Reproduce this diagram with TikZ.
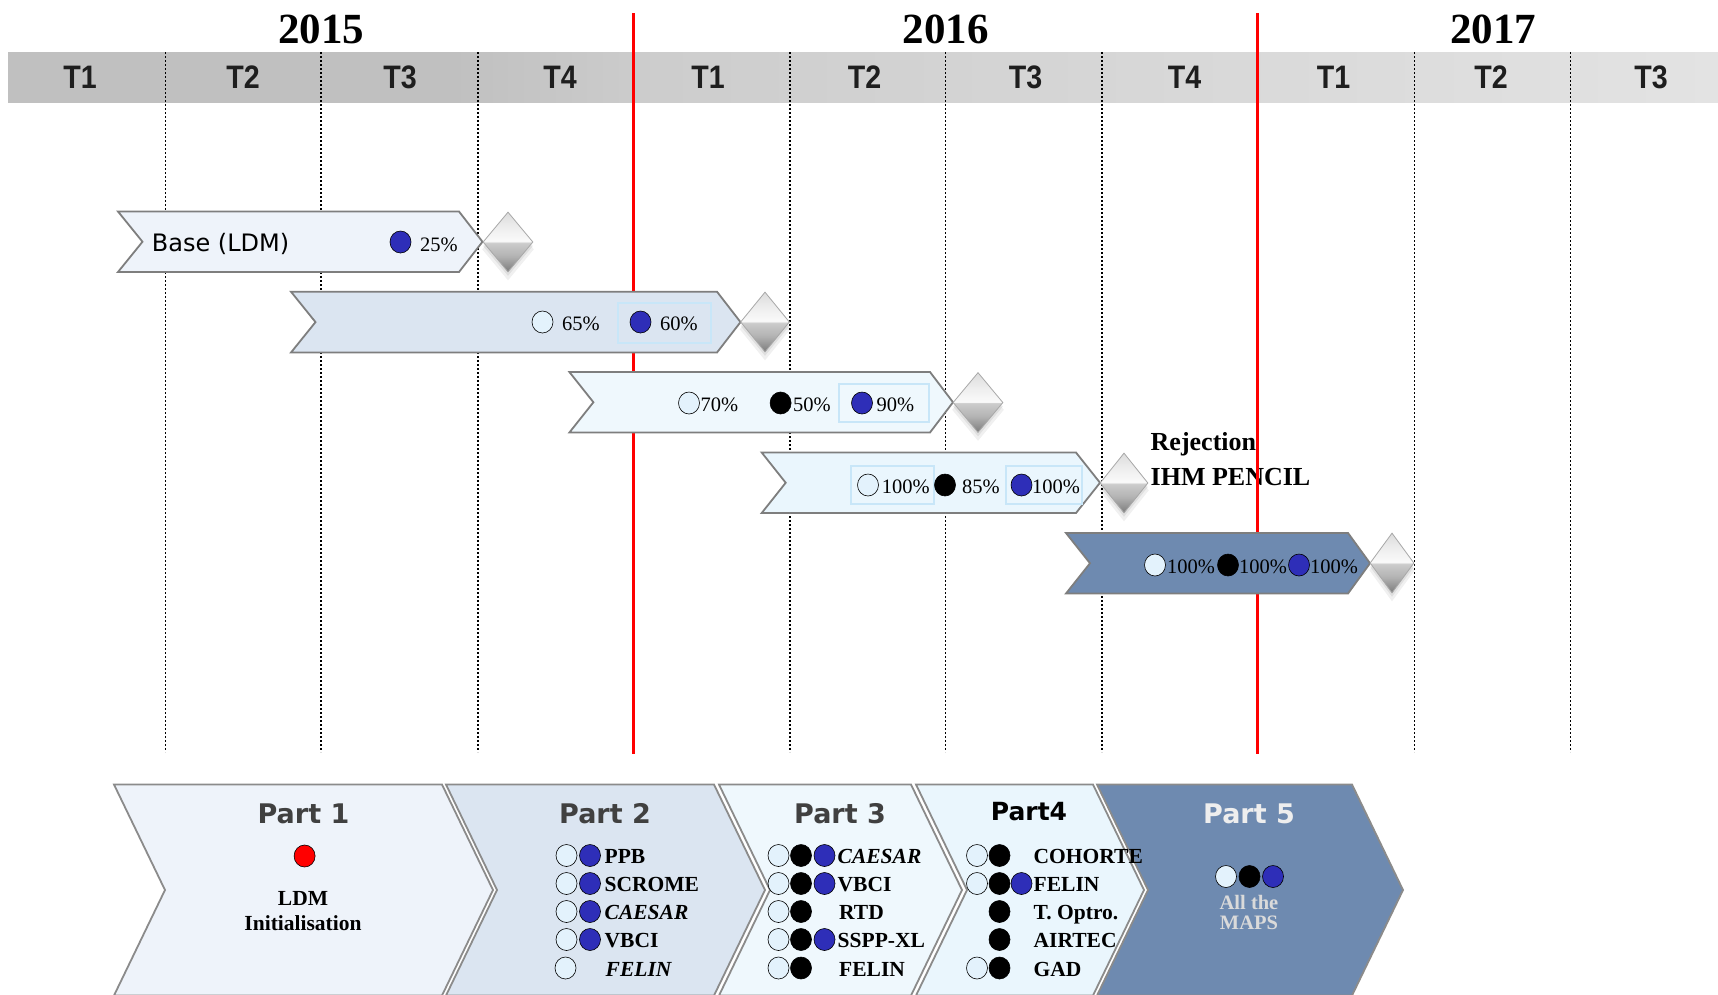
\documentclass[tikz,border=0pt]{standalone}
\usepackage{fontspec}
\setmainfont{Liberation Serif}
\newfontfamily\dejavu{DejaVu Sans}
\newfontfamily\narrowsans[FakeStretch=0.88]{Liberation Sans}
\usetikzlibrary{shapes.geometric,shadows}

% palette
\definecolor{bandL}{HTML}{C0C0C0}
\definecolor{bandM}{HTML}{CDCDCD}
\definecolor{bandR}{HTML}{E3E3E3}
\definecolor{fillA}{HTML}{EEF3FA}
\definecolor{fillB}{HTML}{DBE5F1}
\definecolor{fillC}{HTML}{EFF8FD}
\definecolor{fillD}{HTML}{EAF6FD}
\definecolor{fillE}{HTML}{6E8AB0}
\definecolor{edgegray}{HTML}{7E7E7E}
\definecolor{mapwhite}{HTML}{E3F2FC}
\definecolor{mapblue}{HTML}{2E2EB8}
\definecolor{hilite}{HTML}{C8E6F8}
\definecolor{titlegray}{HTML}{404040}
\definecolor{qgray}{HTML}{1E1E1E}
\definecolor{mapsgray}{HTML}{DADADA}
\definecolor{gA}{HTML}{7C7C7C}
\definecolor{gB}{HTML}{B2B2B2}
\definecolor{gC}{HTML}{CDCDCD}
\definecolor{gD}{HTML}{FAFAFA}
\definecolor{gE}{HTML}{EEEEEE}
\definecolor{gF}{HTML}{DCDCDC}
\definecolor{gemedge}{HTML}{A8A8A8}

% header band: darker on the left, lighter on the right
\pgfdeclarehorizontalshading{bandshade}{100bp}{color(0bp)=(bandL); color(25bp)=(bandL); color(38bp)=(bandL); color(44bp)=(bandM); color(75bp)=(bandR); color(100bp)=(bandR)}
% milestone gem: light upper facet, grey lower facet
\pgfdeclareverticalshading{gemshade}{100bp}{color(0bp)=(gA); color(25bp)=(gA); color(38bp)=(gB); color(49.5bp)=(gC); color(50.5bp)=(gD); color(62bp)=(gE); color(75bp)=(gF); color(100bp)=(gF)}

% a task bar: notched left end, pointed right end
\newcommand\ganttbar[7]{%
  \draw[barline, fill=#1] (#2,#4) -- (#3,#4) -- ({#3+#7},{(#4+#5)/2}) -- (#3,#5)
    -- (#2,#5) -- ({#2+#6},{(#4+#5)/2}) -- cycle;}
% a phase chevron along the bottom
\newcommand\phasechevron[3]{%
  \draw[partline, fill=#1] (#2,784.5) -- (#3,784.5) -- ({#3+51},890) -- (#3,995.5)
    -- (#2,995.5) -- ({#2+51},890) -- cycle;}

\begin{document}
\begin{tikzpicture}[x=1pt,y=-1pt,
  year/.style={anchor=base, inner sep=0, font=\bfseries\fontsize{43}{43}\selectfont},
  qlab/.style={anchor=base, inner sep=0, text=qgray, font=\narrowsans\bfseries\fontsize{32.5}{32}\selectfont},
  gridline/.style={line width=1.3pt, dash pattern=on 2pt off 2pt},
  redline/.style={red, line width=3pt},
  barline/.style={draw=edgegray, line width=1.8pt},
  partline/.style={draw=edgegray!90, line width=1.8pt},
  hibox/.style={draw=hilite, line width=2pt},
  dot/.style={ellipse, inner sep=0, minimum width=21, minimum height=22, draw=black, line width=0.6pt},
  dotw/.style={dot, fill=mapwhite},
  dotk/.style={dot, fill=black},
  dotb/.style={dot, fill=mapblue},
  dotr/.style={dot, fill=red},
  pct/.style={anchor=base west, inner sep=0, font=\fontsize{20.5}{20.5}\selectfont},
  rej/.style={anchor=base west, inner sep=0, font=\bfseries\fontsize{26}{26}\selectfont},
  gem/.style={diamond, inner sep=0, minimum height=60, draw=gemedge, line width=0.8pt, shading=gemshade,
    general shadow={fill=black, opacity=0.06, shadow yshift=-7pt, shadow scale=1.04},
    general shadow={fill=black, opacity=0.07, shadow yshift=-4pt}},
  ptitle/.style={anchor=base, inner sep=0, text=titlegray, font=\dejavu\bfseries\fontsize{27}{27}\selectfont},
  rowlab/.style={anchor=base west, inner sep=0, font=\bfseries\fontsize{21.5}{21.5}\selectfont},
  rowit/.style={rowlab, font=\bfseries\itshape\fontsize{21.5}{21.5}\selectfont},
  mid/.style={anchor=base, inner sep=0, font=\bfseries\fontsize{21.5}{21.5}\selectfont}
]
\path[use as bounding box] (0,0) rectangle (1718,994);
\clip (0,0) rectangle (1718,994);
\fill[white] (0,0) rectangle (1718,994);

% ---- time axis ----
\shade[shading=bandshade] (8,52) rectangle (1718,102);
\foreach \x/\t [count=\i] in {80/T1,243/T2,400/T3,560/T4,708/T1,864.5/T2,1025.6/T3,1184.5/T4,1333.5/T1,1491/T2,1651/T3}
  \node[qlab] (q\i) at (\x,88) {\t};
\node[year] (y2015) at (321,43) {2015};
\node[year] (y2016) at (945.5,43) {2016};
\node[year] (y2017) at (1493,43) {2017};

\foreach \x in {165.5,321,478,790,945.5,1102,1414.5,1570.5}
  \draw[gridline] (\x,52) -- (\x,752);

\node[rej] (rej1) at (1150.5,450) {Rejection};
\node[rej] (rej2) at (1150.5,485) {IHM PENCIL};

\draw[redline] (633,13) -- (633,754);
\draw[redline] (1257,13) -- (1257,754);

% ---- task bars ----
\ganttbar{fillA}{118}{459}{211.5}{272}{24.5}{23.5}
\ganttbar{fillB}{291}{717}{291.7}{352.5}{24.5}{23.5}
\ganttbar{fillC}{569.4}{930}{372}{432.5}{24}{23}
\ganttbar{fillD}{761.7}{1076}{452.5}{513}{24}{24}
\ganttbar{fillE}{1066}{1348}{533}{593.5}{24}{22}

\draw[hibox] (618,303) rectangle (711,343);
\draw[hibox] (839,384) rectangle (929,422);
\draw[hibox] (851,466) rectangle (933.5,504);
\draw[hibox] (1005.5,466) rectangle (1082,504);

% bar 1
\node[anchor=base west, inner sep=0, font=\dejavu\fontsize{24}{24}\selectfont] (base) at (151.7,251.5) {Base (LDM)};
\node[dotb] (a1) at (400.5,242) {};
\node[pct] (a1t) at (420,251) {25\%};
% bar 2
\node[dotw] (b1) at (542.5,322) {};
\node[pct] (b1t) at (562,330) {65\%};
\node[dotb] (b2) at (640.5,322) {};
\node[pct] (b2t) at (660,330) {60\%};
% bar 3
\node[dotw] (c1) at (689,403) {};
\node[pct] (c1t) at (700.5,411) {70\%};
\node[dotk] (c2) at (780.6,403) {};
\node[pct] (c2t) at (793,411) {50\%};
\node[dotb] (c3) at (862,403) {};
\node[pct] (c3t) at (876.5,411) {90\%};
% bar 4
\node[dotw] (d1) at (868,485) {};
\node[pct] (d1t) at (881.6,493) {100\%};
\node[dotk] (d2) at (945,485) {};
\node[pct] (d2t) at (962,493) {85\%};
\node[dotb] (d3) at (1021.5,485) {};
\node[pct] (d3t) at (1032,493) {100\%};
% bar 5
\node[dotw] (e1) at (1155,565) {};
\node[pct] (e1t) at (1167,573) {100\%};
\node[dotk] (e2) at (1228,565) {};
\node[pct] (e2t) at (1239,573) {100\%};
\node[dotb] (e3) at (1299,565) {};
\node[pct] (e3t) at (1310,573) {100\%};

% milestones
\node[gem, minimum width=50] (m1) at (508,242) {};
\node[gem, minimum width=49] (m2) at (765,322) {};
\node[gem, minimum width=50] (m3) at (978,402.5) {};
\node[gem, minimum width=48] (m4) at (1124,483) {};
\node[gem, minimum width=44] (m5) at (1392,563) {};

% ---- phases ----
\phasechevron{fillA}{114}{442}
\phasechevron{fillB}{446}{714}
\phasechevron{fillC}{719}{911}
\phasechevron{fillD}{916}{1093}
\phasechevron{fillE}{1097}{1352}

\node[ptitle] (p1) at (303.5,823.3) {Part 1};
\node[ptitle] (p2) at (605,823.3) {Part 2};
\node[ptitle] (p3) at (840,823.3) {Part 3};
\node[ptitle, text=black, font=\dejavu\bfseries\fontsize{25}{25}\selectfont] (p4) at (1029,820) {Part4};
\node[ptitle, text=gE] (p5) at (1249,823.3) {Part 5};

% part 1
\node[dotr] (p1r) at (304.6,856) {};
\node[mid] (p1a) at (303,905) {LDM};
\node[mid] (p1b) at (303,930) {Initialisation};

% part 2
\node[dotw] (p2w1) at (566.5,855.5) {};  \node[dotb] (p2b1) at (590,855.5) {};
\node[rowlab] (p2l1) at (604.5,863.5) {PPB};
\node[dotw] (p2w2) at (566.5,883.5) {};  \node[dotb] (p2b2) at (590,883.5) {};
\node[rowlab] (p2l2) at (604.5,891.5) {SCROME};
\node[dotw] (p2w3) at (566.5,911.5) {};  \node[dotb] (p2b3) at (590,911.5) {};
\node[rowit] (p2l3) at (604.5,919.5) {CAESAR};
\node[dotw] (p2w4) at (566.5,939.5) {};  \node[dotb] (p2b4) at (590,939.5) {};
\node[rowlab] (p2l4) at (604.5,947.5) {VBCI};
\node[dotw] (p2w5) at (565.5,968) {};
\node[rowit] (p2l5) at (605.5,976) {FELIN};

% part 3
\node[dotw] (p3w1) at (778.5,855.5) {}; \node[dotk] (p3k1) at (801,855.5) {}; \node[dotb] (p3b1) at (824.5,855.5) {};
\node[rowit] (p3l1) at (837.5,863.5) {CAESAR};
\node[dotw] (p3w2) at (778.5,883.5) {}; \node[dotk] (p3k2) at (801,883.5) {}; \node[dotb] (p3b2) at (824.5,883.5) {};
\node[rowlab] (p3l2) at (837.5,891.5) {VBCI};
\node[dotw] (p3w3) at (778.5,911.5) {}; \node[dotk] (p3k3) at (801,911.5) {};
\node[rowlab] (p3l3) at (839,919.5) {RTD};
\node[dotw] (p3w4) at (778.5,939.5) {}; \node[dotk] (p3k4) at (801,939.5) {}; \node[dotb] (p3b4) at (824.5,939.5) {};
\node[rowlab] (p3l4) at (837.5,947.5) {SSPP-XL};
\node[dotw] (p3w5) at (778.5,968) {}; \node[dotk] (p3k5) at (801,968) {};
\node[rowlab] (p3l5) at (839,976) {FELIN};

% part 4
\node[dotw] (p4w1) at (977,855.5) {}; \node[dotk] (p4k1) at (999.5,855.5) {};
\node[rowlab] (p4l1) at (1033.5,863.5) {COHORTE};
\node[dotw] (p4w2) at (977,883.5) {}; \node[dotk] (p4k2) at (999.5,883.5) {}; \node[dotb] (p4b2) at (1021.5,883.5) {};
\node[rowlab] (p4l2) at (1033.5,891.5) {FELIN};
\node[dotk] (p4k3) at (999.5,911.5) {};
\node[rowlab] (p4l3) at (1033.5,919.5) {T. Optro.};
\node[dotk] (p4k4) at (999.5,939.5) {};
\node[rowlab] (p4l4) at (1033.5,947.5) {AIRTEC};
\node[dotw] (p4w5) at (977,968) {}; \node[dotk] (p4k5) at (999.5,968) {};
\node[rowlab] (p4l5) at (1033.5,976) {GAD};

% part 5
\node[dotw] (p5w) at (1226,876.5) {};
\node[dotk] (p5k) at (1249.5,876.5) {};
\node[dotb] (p5b) at (1273,876.5) {};
\node[mid, text=mapsgray, font=\bfseries\fontsize{20.5}{20.5}\selectfont] (p5a) at (1249,909) {All the};
\node[mid, text=mapsgray, font=\bfseries\fontsize{20.5}{20.5}\selectfont] (p5c) at (1249,929) {MAPS};
\end{tikzpicture}
\end{document}
